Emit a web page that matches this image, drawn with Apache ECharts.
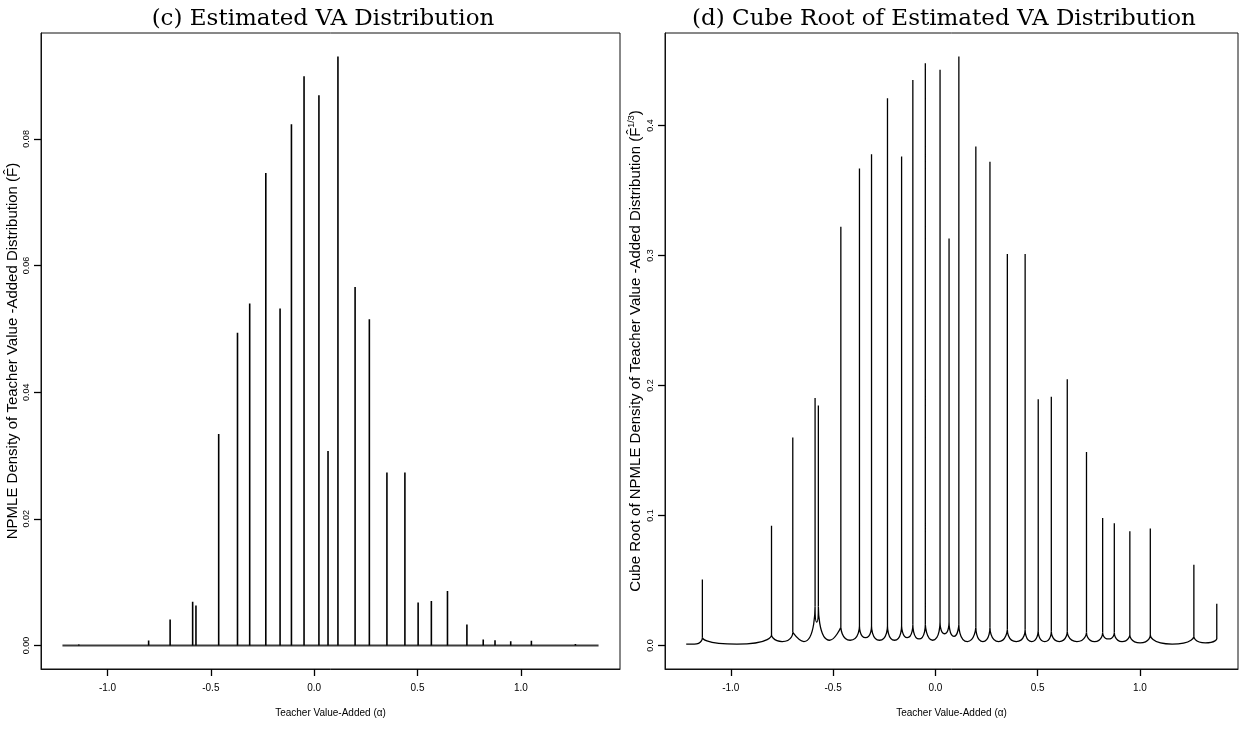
<!DOCTYPE html>
<html>
<head>
<meta charset="utf-8">
<script src="https://cdn.jsdelivr.net/npm/echarts@6/dist/echarts.min.js"></script>
<style>
  html, body { margin: 0; padding: 0; background: #ffffff; }
  #chart { width: 1244px; height: 729px; }
</style>
</head>
<body>
<div id="chart"></div>
<script>
// Support points of the NPMLE estimate of the teacher value-added distribution
const atomX = [-1.139, -0.801, -0.697, -0.588, -0.572, -0.462, -0.371, -0.312, -0.234, -0.165,
               -0.110, -0.049, 0.023, 0.067, 0.115, 0.198, 0.267, 0.352, 0.439, 0.503,
               0.567, 0.645, 0.739, 0.818, 0.875, 0.951, 1.051, 1.264, 1.376];

// Estimated density at each support point
const density = [0.00013, 0.00078, 0.0041, 0.0069, 0.0063, 0.0334, 0.0494, 0.0540, 0.0746, 0.0532,
                 0.0823, 0.0899, 0.0869, 0.0307, 0.0930, 0.0566, 0.0515, 0.0273, 0.0273, 0.0068,
                 0.0070, 0.0086, 0.0033, 0.00094, 0.00083, 0.00068, 0.00073, 0.00024, 0.000033];

// Ends of the grid the density is evaluated on
const gridRange = [-1.218, 1.376];

// Cube-root curve: level where the curve joins each spike ...
const cubeFoot = [0.006, 0.008, 0.010, 0.030, 0.030, 0.014, 0.015, 0.015, 0.015, 0.015,
                  0.016, 0.016, 0.018, 0.018, 0.016, 0.014, 0.014, 0.012, 0.012, 0.011,
                  0.011, 0.011, 0.010, 0.010, 0.010, 0.008, 0.008, 0.007, 0.005];
// ... the trough between each pair of neighbouring spikes ...
const cubeTrough = [0.001, 0.003, 0.003, 0.018, 0.004, 0.004, 0.006, 0.004, 0.004, 0.006,
                    0.005, 0.004, 0.009, 0.007, 0.003, 0.003, 0.003, 0.003, 0.003, 0.003,
                    0.003, 0.003, 0.003, 0.005, 0.003, 0.002, 0.001, 0.002];
// ... and its level along the left tail of the grid
const cubeStart = 0.001;

// Tick values
const xTicks = [-1, -0.5, 0, 0.5, 1];
const densityTicks = [0, 0.02, 0.04, 0.06, 0.08];
const cubeTicks = [0, 0.1, 0.2, 0.3, 0.4];

// Cube-root heights of the spikes
const cubeTop = density.map(Math.cbrt);

// Base-graphics style range: data range widened by 4% on each side
function padRange(lo, hi) {
  const d = (hi - lo) * 0.04;
  return [lo - d, hi + d];
}
const xRange = padRange(gridRange[0], gridRange[1]);
const densityRange = padRange(0, Math.max(...density));
const cubeRange = padRange(0, Math.max(...cubeTop));

// Left panel: a zero line along the grid plus one vertical spike per support point
const baseLine = [[gridRange[0], 0], [gridRange[1], 0]];
const densitySpikes = [];
atomX.forEach((x, i) => {
  densitySpikes.push([x, 0], [x, density[i]], [x, '-']);
});

// Right panel: rounded troughs between spikes, and the spikes themselves
const cubeTroughs = [
  [gridRange[0], cubeStart],
  [(gridRange[0] + atomX[0]) / 2, cubeStart],
  [atomX[0], cubeFoot[0]],
  [atomX[0], '-']
];
for (let i = 0; i < atomX.length - 1; i++) {
  cubeTroughs.push(
    [atomX[i], cubeFoot[i]],
    [(atomX[i] + atomX[i + 1]) / 2, cubeTrough[i]],
    [atomX[i + 1], cubeFoot[i + 1]],
    [atomX[i + 1], '-']
  );
}
const cubeSpikes = [];
atomX.forEach((x, i) => {
  cubeSpikes.push([x, cubeFoot[i]], [x, cubeTop[i]], [x, '-']);
});

const tickFont = '"Liberation Sans Narrow", "Liberation Sans", Arial, sans-serif';
const nameFont = '"Liberation Sans", Arial, sans-serif';
const titleFont = '"DejaVu Serif", serif';
const frameColor = '#111';
const tickColor = '#000';

function xAxisFor(gridIndex) {
  return {
    type: 'value', gridIndex,
    min: xRange[0], max: xRange[1],
    axisLine: { show: true, onZero: false, lineStyle: { color: frameColor, width: 1 } },
    splitLine: { show: false },
    axisTick: { show: true, length: 7, customValues: xTicks, lineStyle: { color: tickColor, width: 1.3 } },
    axisLabel: {
      customValues: xTicks, margin: 14, fontSize: 10, color: '#000', fontFamily: tickFont,
      formatter: v => v.toFixed(1)
    },
    name: 'Teacher Value-Added (α)',
    nameLocation: 'middle', nameGap: 39,
    nameTextStyle: { fontSize: 10, color: '#000', fontFamily: tickFont }
  };
}

function yAxisFor(gridIndex, range, ticks, digits, name, rich) {
  return {
    type: 'value', gridIndex,
    min: range[0], max: range[1],
    axisLine: { show: true, onZero: false, lineStyle: { color: frameColor, width: 1 } },
    splitLine: { show: false },
    axisTick: { show: true, length: 7, customValues: ticks, lineStyle: { color: tickColor, width: 1.3 } },
    axisLabel: {
      customValues: ticks, rotate: 90, margin: 10, fontSize: 9, color: '#000', fontFamily: nameFont,
      formatter: v => v.toFixed(digits)
    },
    name,
    nameLocation: 'middle', nameGap: 21,
    nameTextStyle: { fontSize: 15, color: '#000', fontFamily: nameFont, rich }
  };
}

const chart = echarts.init(document.getElementById('chart'), null, { renderer: 'canvas' });
chart.setOption({
  animation: false,
  backgroundColor: '#ffffff',
  title: [
    { text: '(c) Estimated VA Distribution', left: 318, top: 3, textAlign: 'center',
      textStyle: { fontFamily: titleFont, fontSize: 23, fontWeight: 'normal', color: '#000' } },
    { text: '(d) Cube Root of Estimated VA Distribution', left: 939, top: 3, textAlign: 'center',
      textStyle: { fontFamily: titleFont, fontSize: 23, fontWeight: 'normal', color: '#000' } }
  ],
  grid: [
    { left: 41, top: 33, width: 579, height: 636, show: true, borderColor: frameColor, borderWidth: 1, backgroundColor: 'transparent' },
    { left: 665, top: 33, width: 573, height: 636, show: true, borderColor: frameColor, borderWidth: 1, backgroundColor: 'transparent' }
  ],
  xAxis: [xAxisFor(0), xAxisFor(1)],
  yAxis: [
    yAxisFor(0, densityRange, densityTicks, 2,
      'NPMLE Density of Teacher Value -Added Distribution (F̂)', {}),
    yAxisFor(1, cubeRange, cubeTicks, 1,
      '{t|Cube Root of NPMLE Density of Teacher Value -Added Distribution (F̂}{s|1/3}{t|)}',
      { t: { fontSize: 15, fontFamily: nameFont, color: '#000' },
        s: { fontSize: 9, fontFamily: nameFont, color: '#000', padding: [0, 0, 8, 0] } })
  ],
  series: [
    { type: 'line', xAxisIndex: 0, yAxisIndex: 0, data: baseLine, symbol: 'none', silent: true,
      lineStyle: { color: '#3c3c3c', width: 2 } },
    { type: 'line', xAxisIndex: 0, yAxisIndex: 0, data: densitySpikes, symbol: 'none', silent: true,
      connectNulls: false, lineStyle: { color: '#000', width: 1.6 } },
    { type: 'line', xAxisIndex: 1, yAxisIndex: 1, data: cubeTroughs, symbol: 'none', silent: true,
      smooth: 1, connectNulls: false, lineStyle: { color: '#000', width: 1.3 } },
    { type: 'line', xAxisIndex: 1, yAxisIndex: 1, data: cubeSpikes, symbol: 'none', silent: true,
      connectNulls: false, lineStyle: { color: '#000', width: 1.3 } }
  ]
});
</script>
</body>
</html>
